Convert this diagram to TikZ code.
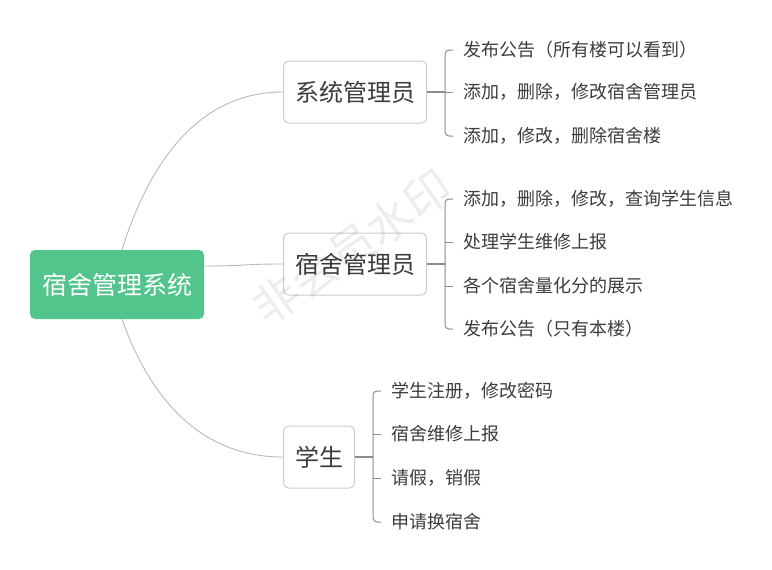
\documentclass[tikz,border=0pt]{standalone}
\usepackage{fontspec}
\newfontfamily\cjk{Noto Sans CJK SC}
\definecolor{rootgreen}{RGB}{82,196,140}
\definecolor{txt}{RGB}{60,60,60}
\definecolor{boxline}{RGB}{205,205,205}
\definecolor{curveline}{RGB}{185,185,185}
\definecolor{branchline}{RGB}{140,140,140}
\tikzset{
  rootbox/.style={draw=none, fill=rootgreen, rounded corners=5pt, minimum width=174pt, minimum height=69pt, inner sep=0pt, text=white, font=\cjk\fontsize{25}{30}\selectfont},
  midbox/.style={draw=boxline, line width=1pt, fill=white, rounded corners=5pt, minimum height=62pt, inner sep=0pt, text=txt, font=\cjk\fontsize{24}{28}\selectfont},
  leaf/.style={anchor=west, inner sep=0pt, text=txt, font=\cjk\fontsize{18}{22}\selectfont},
  curveedge/.style={draw=curveline, line width=0.9pt},
  branch/.style={draw=branchline, line width=1.2pt},
  bracket/.style={draw=branchline, line width=1pt, rounded corners=4pt},
  watermark/.style={text=black, opacity=0.07, rotate=35, font=\cjk\fontsize{46}{50}\selectfont}
}
\begin{document}
\begin{tikzpicture}[x=1pt,y=-1pt]
\useasboundingbox (0,0) rectangle (772,570);
% root
\node[rootbox] (root) at (117,284.5) {宿舍管理系统};
% level 1
\node[midbox, minimum width=143pt] (b1) at (355,92) {系统管理员};
\node[midbox, minimum width=143pt] (b2) at (355,264) {宿舍管理员};
\node[midbox, minimum width=71pt] (b3) at (319,457) {学生};
% curves
\draw[curveedge] ([xshift=5pt]root.north) .. controls (150,160) and (200,92) .. (b1.west);
\draw[curveedge] (root.east |- 0,266) .. controls (244,266) and (244,264) .. (b2.west);
\draw[curveedge] ([xshift=5pt]root.south) .. controls (150,398) and (200,457) .. (b3.west);
% leaves of b1
\node[leaf] (a1) at (463,50) {发布公告（所有楼可以看到）};
\node[leaf] (a2) at (463,92) {添加，删除，修改宿舍管理员};
\node[leaf] (a3) at (463,136) {添加，修改，删除宿舍楼};
\coordinate (j1) at (445,92);
\draw[branch] (b1.east) -- (j1);
\draw[bracket] ([xshift=-10pt]a1.west) -| (j1) |- ([xshift=-10pt]a3.west);
\draw[bracket] (j1) -- ([xshift=-10pt]a2.west);
% leaves of b2
\node[leaf] (s1) at (463,199) {添加，删除，修改，查询学生信息};
\node[leaf] (s2) at (463,242) {处理学生维修上报};
\node[leaf] (s3) at (463,286) {各个宿舍量化分的展示};
\node[leaf] (s4) at (463,329) {发布公告（只有本楼）};
\coordinate (j2) at (445,264);
\draw[branch] (b2.east) -- (j2);
\draw[bracket] ([xshift=-10pt]s1.west) -| (j2) |- ([xshift=-10pt]s4.west);
\draw[bracket] ([xshift=-10pt]s2.west) -- (j2 |- s2.west);
\draw[bracket] ([xshift=-10pt]s3.west) -- (j2 |- s3.west);
% leaves of b3
\node[leaf] (t1) at (391,391) {学生注册，修改密码};
\node[leaf] (t2) at (391,434) {宿舍维修上报};
\node[leaf] (t3) at (391,478) {请假，销假};
\node[leaf] (t4) at (391,522) {申请换宿舍};
\coordinate (j3) at (373,457);
\draw[branch] (b3.east) -- (j3);
\draw[bracket] ([xshift=-10pt]t1.west) -| (j3) |- ([xshift=-10pt]t4.west);
\draw[bracket] ([xshift=-10pt]t2.west) -- (j3 |- t2.west);
\draw[bracket] ([xshift=-10pt]t3.west) -- (j3 |- t3.west);
% watermark
\node[watermark] (wm) at (352,247) {非会员水印};
\end{tikzpicture}
\end{document}
